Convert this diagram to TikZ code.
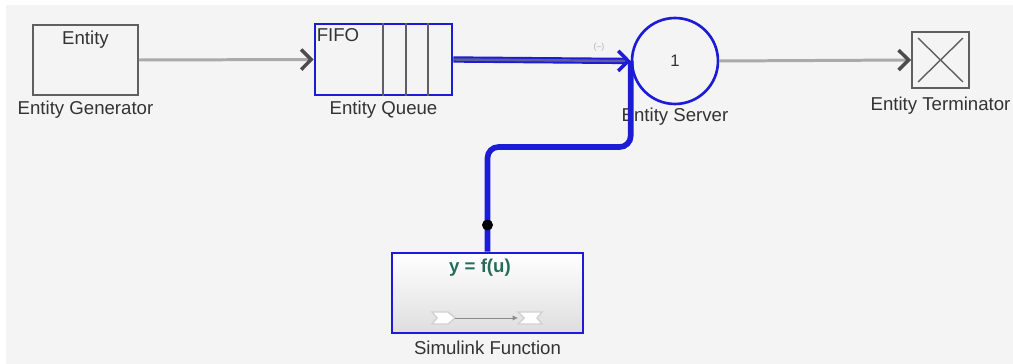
\documentclass[tikz,border=0pt]{standalone}
\usepackage{fontspec}
\setmainfont{Liberation Sans}
\usetikzlibrary{arrows.meta,positioning,calc}
\definecolor{slblue}{RGB}{28,28,215}
\definecolor{slline}{RGB}{170,170,170}
\definecolor{slframe}{RGB}{95,95,95}
\definecolor{slteal}{RGB}{35,110,90}
\definecolor{slback}{RGB}{244,244,244}

\begin{document}
\begin{tikzpicture}[x=0.02cm,y=-0.02cm,font=\fontsize{10.6}{12}\selectfont]
		\newcommand\labgap{0.06cm}
		\tikzset{
		block/.style={draw=slframe, line width=1.1pt, fill=slback, inner sep=0pt},
		bblock/.style={draw=slblue, line width=1.5pt, inner sep=0pt},
		blocklabel/.style={inner sep=1pt, text=black!80},
		portarrow/.style={-{Straight Barb[length=2mm,width=4mm,line width=2pt,color=black!70]}},
		entityline/.style={slline, line width=1.7pt, portarrow},
		queueline/.style={slblue, double=slblue!35!gray, line width=1.1pt, double distance=1.4pt,
			-{Straight Barb[length=2mm,width=4mm,line width=2pt,color=slblue]}},
		callline/.style={slblue, line width=3.2pt, rounded corners=0.22cm},
		tapdot/.style={circle, fill=black, inner sep=0pt, minimum size=0.22cm},
		}
		% background
		\useasboundingbox (0,0) rectangle (1013,364);
		\fill[white] (0,0) rectangle (1013,364);
		\fill[slback] (6,5) rectangle (1013,364);

		% blocks
		\node[block, minimum width=2.1cm, minimum height=1.4cm] (gen) at (85.5,60) {};
		\node[block, draw=slblue, line width=1.5pt, minimum width=2.74cm, minimum height=1.42cm] (queue) at (383.5,59.5) {};
		\node[bblock, circle, fill=slback, minimum size=1.72cm] (server) at (675,61) {};
		\node[block, minimum width=1.14cm, minimum height=1.12cm] (term) at (940.5,60) {};
		\node[bblock, top color=white, bottom color=black!13, minimum width=3.82cm, minimum height=1.6cm] (fcn) at (487.5,293) {};

		% texts in blocks
		\node[blocklabel, below=0.1cm of gen.north] (gentxt) {Entity};
		\node[blocklabel, anchor=north west] (fifo) at ($(queue.north west)+(1,4)$) {FIFO};
		\node[blocklabel, font=\fontsize{9.5}{11}\selectfont] (servertxt) at (server.center) {1};
		\node[blocklabel, text=slteal, font=\fontsize{10.6}{12}\selectfont\bfseries] (fcntxt) at (480,268) {y = f(u)};
		\node[text=black!30, font=\fontsize{5}{6}\selectfont, inner sep=0pt] (sigtag) at (599,47) {(--)};

		% queue slots
		\foreach \qx in {383,406,428} {
			\draw[slframe, line width=1pt] (queue.north -| \qx,0) -- (queue.south -| \qx,0);
		}
		% terminator cross
		\draw[slframe, line width=0.8pt] ($(term.north west)+(7,7)$) -- ($(term.south east)+(-7,-7)$);
		\draw[slframe, line width=0.8pt] ($(term.north east)+(-7,7)$) -- ($(term.south west)+(7,-7)$);
		% function port icon
		\draw[black!18, line width=0.8pt, fill=white] (432,312) -- (448,312) -- (455,318) -- (448,324) -- (432,324) -- (437,318) -- cycle;
		\draw[black!18, line width=0.8pt, fill=white] (518,312) -- (542,312) -- (537,318) -- (542,324) -- (518,324) -- (524,318) -- cycle;
		\draw[black!45, line width=0.5pt, -{Latex[length=3pt,width=3pt]}] (455,318) -- (518,318);

		% block names
		\node[blocklabel, below=\labgap of gen] (genlbl) {Entity Generator};
		\node[blocklabel, below=\labgap of queue] (queuelbl) {Entity Queue};
		\node[blocklabel, below=0.02cm of server] (serverlbl) {Entity Server};
		\node[blocklabel, below=0.12cm of term] (termlbl) {Entity Terminator};
		\node[blocklabel, below=0.1cm of fcn] (fcnlbl) {Simulink Function};

		% connections
		\coordinate (kink) at (server.west |- 0,147);
		\draw[callline] (fcn.north) |- (kink) -- (server.west);
		\node[tapdot] (tap) at (fcn.north |- 0,225) {};
		\draw[entityline] (gen.east) -- (queue.west);
		\draw[queueline] (queue.east) -- (server.west);
		\draw[entityline] (server.east) -- (term.west);
	\end{tikzpicture}
\end{document}
